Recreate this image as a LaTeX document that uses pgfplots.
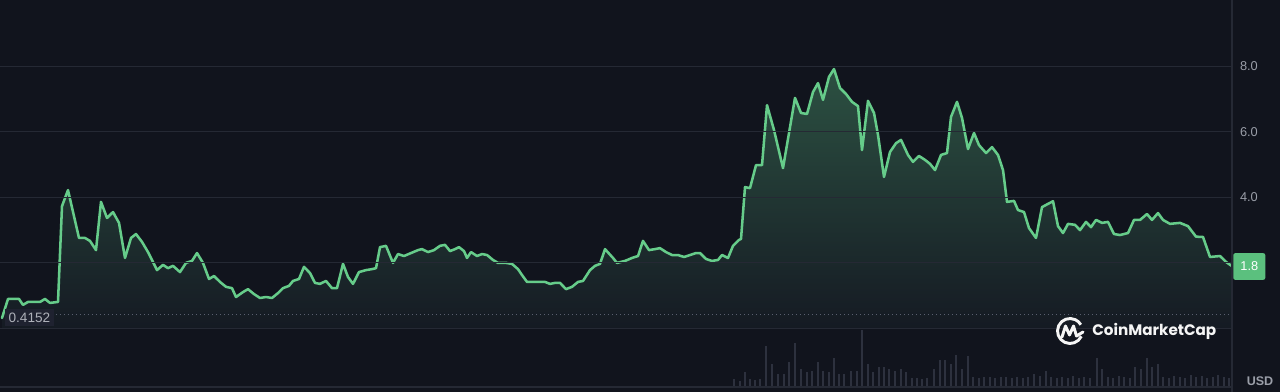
\documentclass[border=0pt]{standalone}
\usepackage{pgfplots}
\usepackage{pgfplotstable}
\pgfplotsset{compat=1.18}
\usepackage{fontspec}
\setmainfont{Liberation Sans}
\newfontfamily\logofont{Poppins}
\definecolor{bg}{HTML}{11141D}
\definecolor{gridc}{HTML}{252934}
\definecolor{linec}{HTML}{66CC8A}
\definecolor{filltop}{HTML}{2C5142}
\definecolor{fillbot}{HTML}{151A23}
\definecolor{tickc}{HTML}{9A9EA8}
\definecolor{volc}{HTML}{2D313E}
\definecolor{lblbox}{HTML}{1F2230}
\definecolor{lastbox}{HTML}{5BC07E}
\definecolor{dotc}{HTML}{5A5F6E}

\pgfplotstableread{
x y
2 0.32
8 0.90
19 0.90
23 0.72
28 0.81
40 0.81
45 0.90
50 0.78
58 0.81
62 3.73
68 4.22
79 2.76
85 2.76
90 2.67
96 2.39
101 3.86
107 3.37
113 3.55
119 3.22
125 2.15
131 2.76
136 2.88
142 2.64
148 2.33
153 2.03
157 1.78
163 1.94
168 1.84
173 1.91
180 1.72
186 2.00
192 2.06
197 2.30
203 2.00
209 1.51
214 1.60
220 1.42
226 1.27
232 1.23
236 0.96
243 1.11
248 1.20
254 1.05
260 0.93
266 0.96
272 0.93
278 1.08
283 1.23
289 1.30
293 1.45
299 1.51
304 1.88
310 1.69
315 1.39
320 1.36
326 1.45
332 1.23
337 1.23
343 1.97
348 1.57
353 1.36
359 1.72
366 1.78
372 1.81
376 1.84
380 2.48
386 2.52
393 2.00
398 2.27
404 2.21
411 2.30
418 2.39
422 2.42
428 2.33
434 2.39
440 2.52
445 2.55
450 2.36
455 2.42
459 2.48
464 2.36
467 2.15
471 2.33
477 2.21
482 2.27
487 2.24
493 2.09
498 2.00
506 2.00
512 1.97
518 1.81
522 1.63
527 1.42
532 1.42
545 1.42
550 1.36
555 1.39
560 1.39
566 1.20
572 1.27
578 1.42
583 1.45
590 1.78
595 1.91
600 1.97
605 2.42
613 2.15
617 2.00
625 2.06
632 2.15
638 2.21
643 2.67
649 2.39
655 2.42
660 2.45
666 2.33
672 2.24
678 2.24
684 2.18
690 2.24
696 2.30
700 2.30
706 2.12
712 2.06
718 2.09
722 2.24
728 2.15
733 2.52
739 2.70
741 2.73
745 4.31
750 4.28
756 4.98
762 4.98
767 6.81
774 6.05
783 4.89
795 7.03
801 6.57
807 6.54
813 7.21
818 7.48
823 6.97
829 7.67
834 7.91
840 7.33
846 7.15
852 6.91
858 6.78
862 5.44
868 6.94
874 6.57
878 5.90
884 4.62
890 5.38
896 5.65
901 5.75
908 5.29
913 5.08
919 5.26
925 5.14
930 5.02
935 4.83
941 5.29
947 5.35
951 6.45
957 6.91
962 6.42
968 5.47
974 5.96
979 5.59
986 5.35
992 5.53
998 5.29
1003 4.83
1007 3.86
1014 3.89
1018 3.61
1024 3.55
1029 3.06
1036 2.76
1042 3.70
1048 3.80
1053 3.88
1058 3.12
1063 2.91
1068 3.19
1075 3.16
1080 3.00
1086 3.25
1091 3.09
1096 3.31
1102 3.22
1108 3.25
1114 2.88
1120 2.85
1128 2.91
1134 3.31
1140 3.31
1147 3.49
1152 3.31
1158 3.52
1163 3.31
1170 3.19
1180 3.22
1188 3.12
1196 2.80
1203 2.79
1210 2.18
1220 2.21
1226 2.03
1232 1.90
}\price

\pgfplotstableread{
x v
734 7
740 5
745 14
750 7
755 6
760 7
766 40
772 22
778 12
784 12
789 24
795 43
801 17
807 14
812 15
818 24
823 15
829 14
834 28
839 12
844 12
851 15
857 15
862 57
868 22
873 14
879 19
884 19
889 17
895 15
901 17
906 14
912 8
917 8
922 7
927 8
934 17
940 26
945 26
951 22
956 31
962 17
968 30
973 9
979 8
984 9
990 9
995 8
1001 9
1006 9
1012 8
1017 9
1023 8
1028 9
1034 12
1040 10
1046 15
1051 9
1057 8
1062 9
1068 8
1073 10
1079 8
1084 9
1090 8
1097 28
1102 17
1108 9
1113 8
1119 10
1124 9
1130 8
1135 19
1141 17
1147 28
1152 19
1158 22
1163 9
1169 8
1174 10
1180 9
1185 8
1191 11
1196 9
1202 10
1207 8
1213 9
1218 11
1224 9
1229 8
}\volume

\begin{document}
\begin{tikzpicture}
\fill[bg] (0pt,0pt) rectangle (960pt,294pt);
\useasboundingbox (0pt,0pt) rectangle (960pt,294pt);

\begin{axis}[
  at={(0pt,47.625pt)}, anchor=south west,
  scale only axis, width=924pt, height=246.375pt,
  xmin=0, xmax=1232, ymin=0, ymax=10.015,
  axis line style={draw=none},
  tick style={draw=none}, major tick length=0pt,
  xtick=\empty,
  ytick={2,4,6,8}, yticklabels={,4.0,6.0,8.0},
  yticklabel pos=right,
  ymajorgrids, grid style={gridc, line width=0.8pt},
  yticklabel style={font=\fontsize{9.6}{11}\selectfont, text=tickc, xshift=2.5pt},
  axis on top,
  clip=false,
]
\addplot[draw=none, top color=filltop, bottom color=fillbot] table[x=x,y=y] {\price} \closedcycle;
\addplot[linec, line width=1.9pt, line join=round, line cap=round] table[x=x,y=y] {\price};
\addplot[dotc, line width=0.8pt, dash pattern=on 1.1pt off 1.9pt] coordinates {(56,0.4152) (1232,0.4152)};
\node[fill=lblbox, text=tickc!80!white, font=\fontsize{10.2}{12}\selectfont, inner xsep=2.5pt, inner ysep=3pt, anchor=west] at (axis cs:5,0.33) {0.4152};
\node[fill=lastbox, text=white, rounded corners=1.5pt, font=\fontsize{9.6}{11}\selectfont, minimum width=24pt, minimum height=20pt, anchor=west] at (axis cs:1233,1.89) {1.8};
\end{axis}

\begin{axis}[
  at={(0pt,4.5pt)}, anchor=south west,
  scale only axis, width=924pt, height=42pt,
  xmin=0, xmax=1232, ymin=0, ymax=56,
  hide axis,
]
\addplot[ycomb, volc, line width=1.3pt] table[x=x,y=v] {\volume};
\end{axis}

\begin{scope}[shift={(0pt,294pt)}, x=0.75pt, y=-0.75pt]
  \draw[gridc, line width=0.8pt] (0,328.5) -- (1232,328.5);
  \draw[gridc, line width=0.8pt] (0,387) -- (1232,387);
  \draw[gridc, line width=0.8pt] (1232,0) -- (1232,392);
  % logo
  \draw[white!92!gray, line width=2.2pt] (1070,331) ++(25:12.5) arc (25:330:12.5);
  \draw[white!92!gray, line width=2.2pt, line join=round, line cap=round]
     (1062,337) -- (1065.5,326) -- (1069.5,335) -- (1073.5,326) -- (1076.5,336) -- (1083,332);
  \node[anchor=west, inner sep=0pt, text=white!92!gray] at (1092,331.5) {\resizebox{93pt}{!}{\logofont\bfseries CoinMarketCap}};
  \node[text=tickc, font=\bfseries\fontsize{9.4}{11}\selectfont, inner sep=0pt] at (1260,381.5) {USD};
\end{scope}
\end{tikzpicture}
\end{document}
